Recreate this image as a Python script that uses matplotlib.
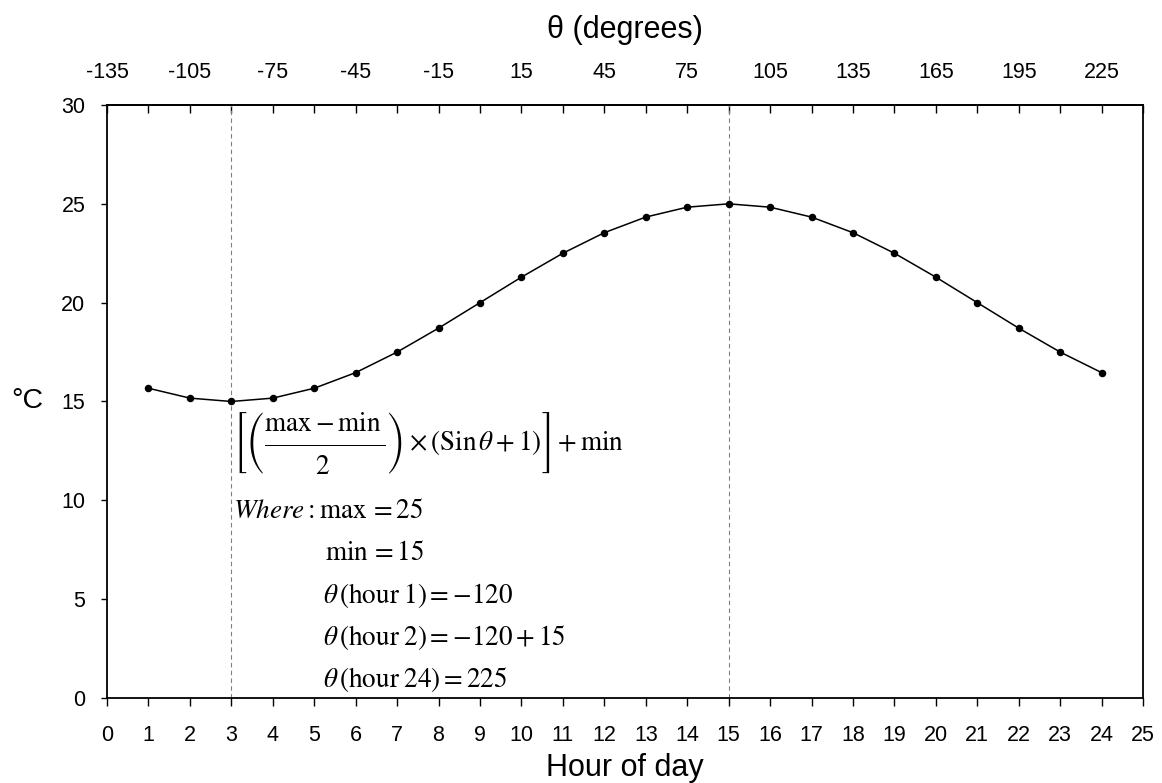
import matplotlib
matplotlib.use("Agg")
import matplotlib.pyplot as plt
from matplotlib.ticker import MultipleLocator, FixedLocator

plt.rcParams["font.family"] = ["Liberation Sans", "DejaVu Sans"]
plt.rcParams["mathtext.fontset"] = "stix"
plt.rcParams["axes.unicode_minus"] = False

# Data
hours = [1, 2, 3, 4, 5, 6, 7, 8, 9, 10, 11, 12,
         13, 14, 15, 16, 17, 18, 19, 20, 21, 22, 23, 24]
temps = [15.67, 15.17, 15.00, 15.17, 15.67, 16.46, 17.50, 18.71,
         20.00, 21.29, 22.50, 23.54, 24.33, 24.83, 25.00, 24.83,
         24.33, 23.54, 22.50, 21.29, 20.00, 18.71, 17.50, 16.46]
marker_hours = [3, 15]  # min and max of the curve
theta_ticks = list(range(-135, 226, 30))

# zero-thickness genfracs only add vertical room around the fraction
num = r"\genfrac{}{}{0}{0}{\mathrm{max}-\mathrm{min}}{\,}"
den = r"\genfrac{}{}{0}{0}{\,}{2}"
formula_lines = [
    r"$\left[\left(\dfrac{" + num + "}{" + den + r"}\right)\times\left(\mathrm{Sin}\,\theta+1\right)\right]+\mathrm{min}$",
    r"$\mathit{Where}:\mathrm{max}\,=25$",
    r"$\mathrm{min}\,=15$",
    r"$\theta\,(\mathrm{hour}\;1)=-120$",
    r"$\theta\,(\mathrm{hour}\;2)=-120+15$",
    r"$\theta\,(\mathrm{hour}\;24)=225$",
]
formula_x = [3.03, 3.03, 5.25, 5.2, 5.2, 5.2]
formula_y = [12.9, 9.45, 7.32, 5.2, 3.08, 0.95]

fig = plt.figure(figsize=(11.62, 7.83), dpi=100)
ax = fig.add_axes([0.0921, 0.1086, 0.8916, 0.7573])

for h in marker_hours:
    ax.axvline(h, color="#808080", lw=0.8, ls=(0, (4, 3)), zorder=1)

ax.plot(hours, temps, color="black", lw=1.1, marker="o", ms=4.4, zorder=3)

ax.set_xlim(0, 25)
ax.set_ylim(0, 30)
ax.xaxis.set_major_locator(MultipleLocator(1))
ax.yaxis.set_major_locator(MultipleLocator(5))
ax.tick_params(axis="x", direction="out", length=5.8, width=1,
               labelsize=15.5, pad=14)
ax.tick_params(axis="y", direction="out", length=4, width=1,
               labelsize=15.5, pad=11.5)
for s in ax.spines.values():
    s.set_linewidth(1.3)

ax.set_xlabel("Hour of day", fontsize=22, labelpad=5)
ax.set_ylabel("°C", fontsize=20.5, rotation=0, ha="center", va="center")
ax.yaxis.set_label_coords(-0.077, 0.5)

top = ax.secondary_xaxis("top", functions=(lambda h: 15 * h - 135,
                                           lambda t: (t + 135) / 15))
top.xaxis.set_major_locator(FixedLocator(theta_ticks))
top.xaxis.set_minor_locator(MultipleLocator(15))
top.tick_params(which="both", direction="in", length=6, width=1,
                labelsize=15.5, pad=16)
top.spines["top"].set_linewidth(1.3)
top.set_xlabel("θ (degrees)", fontsize=22, labelpad=17)

for txt, x, y in zip(formula_lines, formula_x, formula_y):
    ax.text(x, y, txt, fontsize=19.5, ha="left", va="center", zorder=4)

fig.savefig("out.png", dpi=100)
